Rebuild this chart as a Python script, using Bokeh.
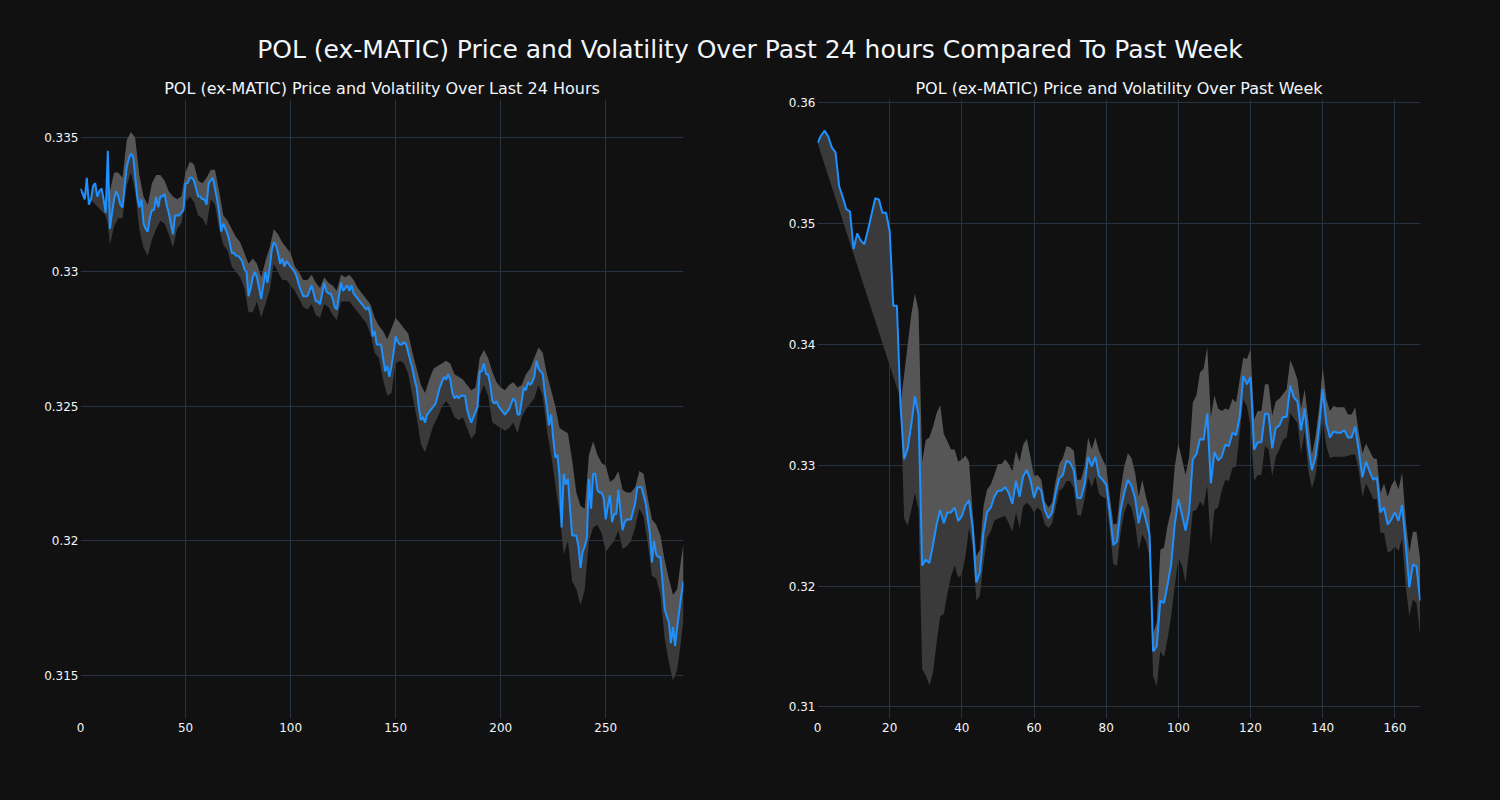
from bokeh.plotting import figure
from bokeh.layouts import column, row
from bokeh.models import Div, FixedTicker, Range1d
from bokeh.embed import file_html
from bokeh.resources import INLINE

# ---------------- data: last 24 hours ----------------
day_price = [
    .3331, .3329, .3327, .3335, .3325, .3327, .3332, .3333, .3328, .3330,
    .3331, .3327, .3322, .3345, .3316, .3322, .3327, .3330, .3328, .3325,
    .3324, .3332, .3339, .3342, .3344, .3343, .3336, .3328, .3324, .3327,
    .3318, .3316, .3315, .3320, .3323, .3323, .3328, .3324, .3328, .3328,
    .3329, .3325, .3322, .3318, .3314, .3321, .3321, .3321, .3322, .3323,
    .3333, .3333, .3335, .3335, .3334, .3331, .3328, .3328, .3327, .3327,
    .3325, .3333, .3334, .3335, .3331, .3327, .3322, .3315, .3318, .3316,
    .3314, .3311, .3307, .3307, .3306, .3306, .3305, .3304, .3301, .3300,
    .3291, .3294, .3298, .3300, .3298, .3294, .3290, .3295, .3300, .3296,
    .3301, .3308, .3311, .3310, .3307, .3303, .3305, .3302, .3304, .3303,
    .3302, .3301, .3300, .3298, .3295, .3293, .3291, .3291, .3291, .3293,
    .3295, .3292, .3289, .3289, .3288, .3292, .3296, .3293, .3292, .3292,
    .3290, .3287, .3286, .3291, .3296, .3293, .3294, .3295, .3293, .3295,
    .3292, .3291, .3290, .3289, .3288, .3287, .3286, .3287, .3284, .3276,
    .3278, .3273, .3273, .3273, .3268, .3263, .3265, .3261, .3265, .3270,
    .3276, .3274, .3273, .3273, .3274, .3273, .3270, .3267, .3264, .3260,
    .3257, .3250, .3245, .3246, .3244, .3247, .3248, .3249, .3250, .3251,
    .3254, .3257, .3259, .3261, .3260, .3262, .3260, .3255, .3253, .3254,
    .3253, .3254, .3254, .3254, .3249, .3246, .3244, .3246, .3248, .3250,
    .3263, .3263, .3266, .3262, .3262, .3258, .3252, .3251, .3252, .3250,
    .3249, .3248, .3247, .3248, .3249, .3251, .3253, .3252, .3247, .3247,
    .3252, .3257, .3256, .3259, .3258, .3259, .3261, .3267, .3264, .3263,
    .3262, .3255, .3250, .3243, .3247, .3238, .3231, .3232, .3224, .3205,
    .3225, .3221, .3223, .3212, .3202, .3202, .3202, .3198, .3190, .3196,
    .3198, .3201, .3223, .3212, .3225, .3225, .3219, .3218, .3218, .3216,
    .3208, .3213, .3217, .3207, .3210, .3210, .3219, .3211, .3204, .3207,
    .3208, .3208, .3208, .3211, .3214, .3220, .3220, .3220, .3217, .3214,
    .3208, .3203, .3192, .3200, .3195, .3194, .3194, .3185, .3175, .3172,
    .3170, .3162, .3168, .3161, .3168, .3174, .3180, .3185,
]
day_x = list(range(len(day_price)))

day_upper_x = [12, 14] + list(range(16, 287, 2)) + [287]
day_upper = [
    .3324, .3330,
    .3337, .3337, .3335, .3349, .3352, .3350, .3336, .3328, .3325, .3333,
    .3336, .3336, .3334, .3330, .3328, .3327, .3328, .3337, .3341, .3340,
    .3334, .3333, .3335, .3338, .3338, .3330, .3321, .3319, .3316, .3313,
    .3311, .3307, .3303, .3305, .3303, .3298, .3304, .3309, .3316, .3314,
    .3311, .3309, .3307, .3302, .3300, .3297, .3297, .3299, .3296, .3294,
    .3298, .3296, .3295, .3293, .3299, .3298, .3299, .3297, .3294, .3292,
    .3290, .3288, .3283, .3280, .3278, .3275, .3279, .3283, .3281, .3279,
    .3277, .3270, .3264, .3258, .3255, .3260, .3264, .3265, .3266, .3267,
    .3266, .3262, .3261, .3260, .3258, .3256, .3257, .3268, .3271, .3268,
    .3263, .3259, .3257, .3256, .3258, .3259, .3257, .3258, .3262, .3264,
    .3268, .3272, .3270, .3262, .3256, .3250, .3242, .3241, .3240, .3230,
    .3218, .3213, .3212, .3232, .3237, .3232, .3229, .3228, .3222, .3223,
    .3226, .3219, .3218, .3218, .3220, .3226, .3225, .3216, .3208, .3206,
    .3202, .3193, .3186, .3180, .3182, .3194,
    .3199,
]
day_lower_x = [0, 12, 13, 14] + list(range(16, 287, 2)) + [287]
day_lower = [
    .3331, .3321, .3318, .3310,
    .3317, .3320, .3320, .3332, .3337, .3330, .3316, .3309, .3306, .3312,
    .3316, .3319, .3318, .3314, .3309, .3316, .3318, .3326, .3328, .3326,
    .3321, .3320, .3317, .3327, .3325, .3316, .3310, .3308, .3302, .3300,
    .3298, .3294, .3285, .3285, .3289, .3283, .3288, .3293, .3303, .3300,
    .3297, .3297, .3295, .3293, .3290, .3287, .3286, .3288, .3284, .3283,
    .3288, .3287, .3284, .3282, .3289, .3289, .3289, .3287, .3285, .3283,
    .3281, .3277, .3270, .3268, .3260, .3254, .3255, .3266, .3267, .3266,
    .3262, .3254, .3246, .3236, .3233, .3238, .3243, .3246, .3250, .3252,
    .3250, .3246, .3245, .3246, .3242, .3238, .3240, .3254, .3258, .3254,
    .3244, .3243, .3242, .3241, .3242, .3244, .3240, .3246, .3249, .3251,
    .3253, .3258, .3254, .3241, .3232, .3221, .3210, .3195, .3200, .3185,
    .3182, .3176, .3182, .3200, .3205, .3206, .3203, .3196, .3198, .3200,
    .3204, .3197, .3198, .3200, .3205, .3212, .3209, .3199, .3187, .3186,
    .3180, .3164, .3155, .3148, .3152, .3164,
    .3171,
]

# ---------------- data: past week ----------------
week_price = [
    .3567, .3573, .3577, .3572, .3563, .3559, .3531, .3522, .3512, .3510,
    .3479, .3492, .3486, .3483, .3495, .3508, .3521, .3520, .3509, .3509,
    .3494, .3432, .3432, .3350, .3305, .3314, .3334, .3357, .3342, .3217,
    .3222, .3219, .3234, .3251, .3263, .3252, .3261, .3261, .3265, .3254,
    .3258, .3267, .3271, .3248, .3203, .3211, .3244, .3261, .3265, .3274,
    .3279, .3279, .3282, .3277, .3268, .3287, .3274, .3291, .3296, .3288,
    .3273, .3282, .3279, .3263, .3256, .3261, .3277, .3289, .3292, .3304,
    .3302, .3296, .3273, .3273, .3284, .3307, .3299, .3307, .3291, .3288,
    .3284, .3261, .3234, .3237, .3263, .3277, .3288, .3283, .3273, .3252,
    .3266, .3255, .3243, .3146, .3150, .3188, .3186, .3201, .3218, .3251,
    .3272, .3259, .3246, .3262, .3305, .3309, .3322, .3321, .3343, .3285,
    .3311, .3304, .3307, .3317, .3316, .3327, .3325, .3340, .3374, .3367,
    .3373, .3313, .3319, .3319, .3343, .3342, .3314, .3331, .3333, .3340,
    .3340, .3366, .3356, .3353, .3329, .3347, .3316, .3296, .3307, .3332,
    .3363, .3335, .3323, .3328, .3327, .3327, .3329, .3323, .3323, .3332,
    .3312, .3290, .3303, .3295, .3288, .3290, .3261, .3265, .3251, .3255,
    .3261, .3254, .3267, .3235, .3199, .3218, .3216, .3188,
]
week_x = list(range(len(week_price)))

week_upper_x = [23] + list(range(25, 168))
week_upper = [
    .3350,
    .3400, .3425, .3442, .3428, .3303, .3321, .3323, .3332, .3343, .3350,
    .3326, .3320, .3313, .3313, .3303, .3305, .3308, .3303, .3260, .3225,
    .3230, .3266, .3280, .3284, .3292, .3301, .3301, .3305, .3301, .3295,
    .3312, .3303, .3317, .3322, .3307, .3291, .3292, .3288, .3270, .3265,
    .3269, .3287, .3301, .3306, .3316, .3315, .3312, .3288, .3288, .3299,
    .3323, .3313, .3323, .3312, .3305, .3299, .3274, .3251, .3252, .3280,
    .3299, .3310, .3306, .3294, .3274, .3288, .3274, .3263, .3160, .3170,
    .3230, .3232, .3250, .3263, .3299, .3318, .3305, .3292, .3307, .3352,
    .3358, .3377, .3380, .3398, .3340, .3358, .3347, .3345, .3347, .3346,
    .3355, .3352, .3371, .3389, .3388, .3396, .3338, .3345, .3345, .3367,
    .3367, .3341, .3353, .3355, .3359, .3363, .3387, .3380, .3371, .3347,
    .3363, .3338, .3309, .3324, .3347, .3381, .3355, .3345, .3349, .3348,
    .3348, .3348, .3342, .3342, .3348, .3327, .3310, .3318, .3312, .3306,
    .3305, .3277, .3285, .3274, .3283, .3288, .3280, .3294, .3255, .3228,
    .3245, .3245, .3222,
]
week_lower_x = [0] + list(range(23, 168))
week_lower = [
    .3567,
    .3355, .3256, .3250, .3263, .3277, .3263, .3131, .3126, .3118, .3128,
    .3153, .3175, .3177, .3194, .3208, .3217, .3207, .3210, .3225, .3248,
    .3233, .3188, .3192, .3219, .3240, .3245, .3254, .3256, .3257, .3258,
    .3252, .3245, .3261, .3248, .3266, .3269, .3266, .3261, .3265, .3262,
    .3251, .3248, .3252, .3265, .3279, .3281, .3287, .3287, .3281, .3259,
    .3258, .3272, .3290, .3282, .3291, .3276, .3274, .3272, .3245, .3218,
    .3217, .3244, .3261, .3269, .3265, .3252, .3230, .3243, .3237, .3225,
    .3126, .3117, .3146, .3141, .3156, .3175, .3200, .3223, .3217, .3203,
    .3230, .3262, .3263, .3270, .3266, .3283, .3233, .3263, .3265, .3279,
    .3288, .3287, .3298, .3299, .3327, .3354, .3349, .3332, .3287, .3292,
    .3292, .3316, .3313, .3291, .3307, .3313, .3321, .3323, .3343, .3339,
    .3335, .3310, .3328, .3296, .3281, .3291, .3316, .3338, .3316, .3306,
    .3307, .3307, .3307, .3307, .3308, .3309, .3309, .3296, .3274, .3285,
    .3279, .3272, .3272, .3244, .3244, .3228, .3229, .3233, .3229, .3239,
    .3200, .3175, .3189, .3186, .3159,
]

day_xticks = [0, 50, 100, 150, 200, 250]
day_yticks = [0.315, 0.32, 0.325, 0.33, 0.335]
day_ytick_labels = ["0.315", "0.32", "0.325", "0.33", "0.335"]
week_xticks = [0, 20, 40, 60, 80, 100, 120, 140, 160]
week_yticks = [0.31, 0.32, 0.33, 0.34, 0.35, 0.36]
week_ytick_labels = ["0.31", "0.32", "0.33", "0.34", "0.35", "0.36"]

main_title = "POL (ex-MATIC) Price and Volatility Over Past 24 hours Compared To Past Week"
day_title = "POL (ex-MATIC) Price and Volatility Over Last 24 Hours"
week_title = "POL (ex-MATIC) Price and Volatility Over Past Week"

BG = "#111111"
GRID = "#283442"
TXT = "#f2f5fa"
FONT = "DejaVu Sans"
LINE = "#1e90ff"
LIGHT = "#565656"
DARK = "#3a3a3a"


def band_polygon(bx, by, px, py):
    lo, hi = bx[0], bx[-1]
    sel = [(x, y) for x, y in zip(px, py) if lo <= x <= hi]
    xs = list(bx) + [x for x, _ in reversed(sel)]
    ys = list(by) + [y for _, y in reversed(sel)]
    return xs, ys


def make_panel(title, xr, yr, xticks, yticks, ylabels, px, py, ux, uy, lx, ly,
               border_left, border_right):
    p = figure(frame_width=603, frame_height=619,
               x_range=Range1d(*xr), y_range=Range1d(*yr),
               output_backend="svg", toolbar_location=None,
               background_fill_color=BG, border_fill_color=BG,
               outline_line_color=None,
               min_border_left=border_left, min_border_right=border_right,
               min_border_top=22, min_border_bottom=40)
    p.title.text = title
    p.title.align = "center"
    p.title.text_color = TXT
    p.title.text_font = FONT
    p.title.text_font_size = "16px"
    p.title.text_font_style = "normal"
    p.title.standoff = 4

    lxs, lys = band_polygon(lx, ly, px, py)
    p.patch(lxs, lys, fill_color=DARK, line_color=None)
    uxs, uys = band_polygon(ux, uy, px, py)
    p.patch(uxs, uys, fill_color=LIGHT, line_color=None)
    p.line(px, py, line_color=LINE, line_width=2)

    p.xaxis.ticker = FixedTicker(ticks=xticks)
    p.yaxis.ticker = FixedTicker(ticks=yticks)
    p.yaxis.major_label_overrides = {t: l for t, l in zip(yticks, ylabels)}
    for ax in (p.xaxis, p.yaxis):
        ax.axis_line_color = None
        ax.major_tick_line_color = None
        ax.minor_tick_line_color = None
        ax.major_tick_out = 0
        ax.major_tick_in = 0
        ax.minor_tick_out = 0
        ax.major_label_text_color = TXT
        ax.major_label_text_font = FONT
        ax.major_label_text_font_size = "12px"
    p.yaxis.major_label_standoff = 2
    p.xaxis.major_label_standoff = 4
    p.xgrid.grid_line_color = GRID
    p.ygrid.grid_line_color = GRID
    return p


p1 = make_panel(day_title, (0, 287), (0.31340, 0.33641), day_xticks, day_yticks,
                day_ytick_labels, day_x, day_price, day_upper_x, day_upper,
                day_lower_x, day_lower, 72, 50)
p2 = make_panel(week_title, (0, 167.1), (0.30904, 0.36028), week_xticks, week_yticks,
                week_ytick_labels, week_x, week_price, week_upper_x, week_upper,
                week_lower_x, week_lower, 84, 30)

head = Div(text=('<div style="width:1484px;height:66px;line-height:84px;white-space:nowrap;'
                 'text-align:center;font-size:25px;color:%s;font-family:\'%s\';">%s</div>'
                 % (TXT, FONT, main_title)),
           width=1484, height=66, margin=(0, 0, 0, 0))

layout = column(head, row(p1, p2), background=BG)

html = file_html(layout, INLINE, title="POL (ex-MATIC)")
html = html.replace("</head>", "<style>html,body{background:#111111 !important;}body{margin:8px !important;}</style></head>", 1)
open("out.html", "w").write(html)
